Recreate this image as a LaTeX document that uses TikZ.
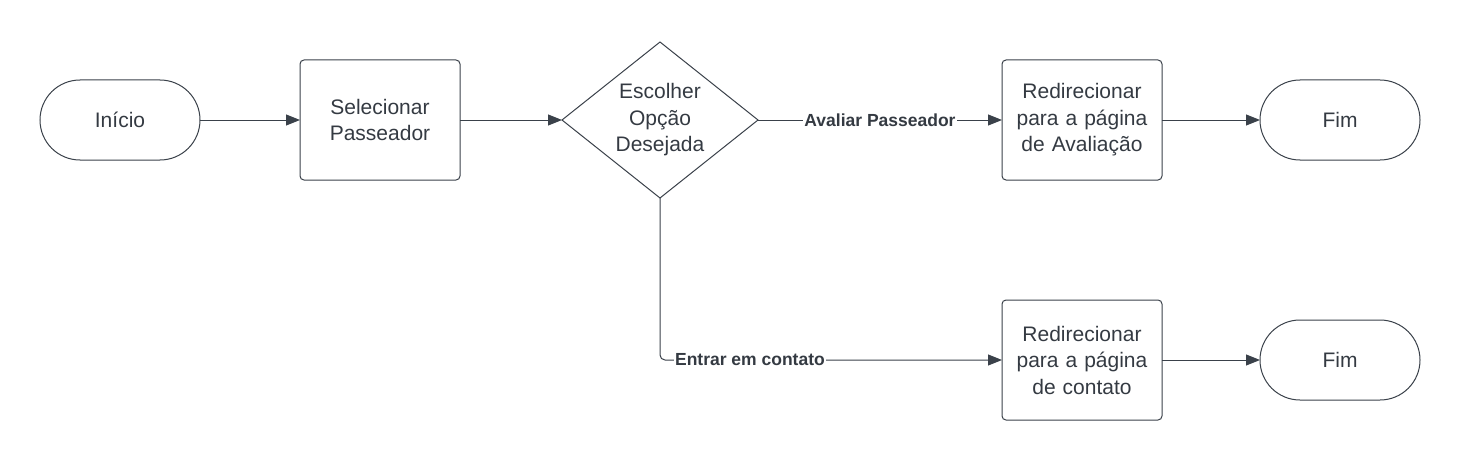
\documentclass[tikz,border=0pt]{standalone}
\usepackage{fontspec}
\setmainfont{Liberation Sans}
\usetikzlibrary{shapes.geometric,positioning,arrows.meta}
\definecolor{linegray}{HTML}{3A414A}
\definecolor{textgray}{HTML}{343A42}

\begin{document}
\begin{tikzpicture}[x=1pt,y=-1pt,node distance=100pt]
	\tikzstyle{term} = [rectangle, draw=linegray, line width=1pt, outer sep=0pt, rounded corners=40pt, minimum width=160pt, minimum height=80pt, text=textgray, font=\fontsize{21}{26.5}\selectfont];
	\tikzstyle{block} = [rectangle, draw=linegray, line width=1pt, outer sep=0pt, rounded corners=4pt, minimum width=160pt, minimum height=120pt, text width=150pt, align=center, text=textgray, font=\fontsize{21}{26.5}\selectfont];
	\tikzstyle{decision} = [diamond, draw=linegray, line width=1pt, outer sep=0pt, aspect=1.25, minimum width=196pt, minimum height=156pt, inner sep=0pt, align=center, text=textgray, font=\fontsize{21}{26.5}\selectfont];
	\tikzstyle{flow} = [draw=linegray, line width=1pt, -{Triangle[length=14pt,width=11pt]}];
	\tikzstyle{choice} = [fill=white, inner sep=1pt, text=textgray, font=\bfseries\fontsize{17.5}{21}\selectfont];

	\useasboundingbox (0,0) rectangle (1460,460);
	\draw node [term] (start) at (120,120) {Início};
	\draw node [block, right=100pt of start] (select) {Selecionar\\Passeador};
	\draw node [decision, right=102pt of select] (option) {Escolher\\Opção\\Desejada};
	\draw node [block, right=244pt of option] (rating) {Redirecionar\\para a página\\de Avaliação};
	\draw node [term, right=98pt of rating] (end1) {Fim};
	\draw node [block, below=120pt of rating] (contact) {Redirecionar\\para a página\\de contato};
	\draw node [term, right=98pt of contact] (end2) {Fim};
	\coordinate (turn) at (option.south |- contact.west);

	\draw [flow] (start) -- (select);
	\draw [flow] (select) -- (option);
	\draw [flow] (option) -- node [choice] {Avaliar Passeador} (rating);
	\draw [flow] (rating) -- (end1);
	\draw [flow, rounded corners=5pt] (option.south) -- (turn) -- node [choice, pos=0.263] {Entrar em contato} (contact);
	\draw [flow] (contact) -- (end2);
\end{tikzpicture}
\end{document}
